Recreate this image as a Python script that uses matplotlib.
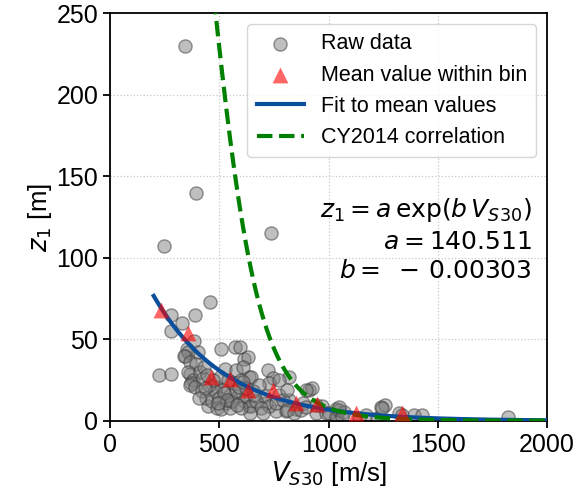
import numpy as np
import matplotlib
matplotlib.use("Agg")
import matplotlib.pyplot as plt

plt.rcParams["font.family"] = ["Liberation Sans", "DejaVu Sans"]
plt.rcParams["mathtext.fontset"] = "dejavusans"

# Datos brutos (Vs30 [m/s], z1 [m])
vs30_raw = [342, 395, 247, 737, 456,
            281, 387, 331, 278, 384, 352, 342, 402, 357, 337, 364, 395,
            509, 574, 596, 615, 630, 223, 281, 364, 357, 380, 372, 364, 387,
            524, 577, 501, 539, 561, 600, 638, 486, 516, 547, 585, 448, 532,
            615, 638, 721, 744, 729, 714, 759, 805, 850, 881, 911, 926, 972,
            942, 987, 1033, 820, 774, 820, 1040, 1169, 607, 645, 683, 623,
            645, 706, 729, 759, 790, 812, 774, 812, 843, 873, 896, 896, 942,
            1002, 1033, 1048, 1071, 1048, 1063, 1139, 1222, 1238, 1260, 1245,
            1321, 1336, 1390, 1427, 1822,
            420, 440, 465, 480, 500, 455, 470, 410, 425, 435, 490, 510, 550,
            560, 575, 590, 655, 670, 690, 700, 640, 660, 600, 620, 430, 445,
            408, 520, 535, 495, 610, 580]
z1_raw = [230, 140, 107, 115, 73,
          65, 65, 60, 55, 49, 44, 40, 42, 42, 40, 36, 35,
          44, 45.5, 45, 38, 39, 28, 29, 29, 30, 25, 23, 22, 21,
          32, 31, 27, 25, 23, 25, 27, 21, 19, 16, 15, 9, 11,
          12, 9, 31, 26, 23, 11, 6, 6, 7, 11, 19, 20, 9,
          5, 5, 7, 27, 16, 13, 1.5, 3.5, 33, 27, 22, 15,
          9, 15, 9, 11, 13, 19, 25, 6.6, 4.6, 6.6, 8.6, 19, 9.7,
          4.6, 2.5, 6.6, 5.6, 8.7, 2.5, 1.5, 1.5, 8.7, 9.7, 7.7,
          4.6, 3.6, 3.6, 3.6, 2.5,
          18, 14, 12, 18, 14, 22, 25, 30, 26, 20, 8, 7, 8,
          12, 18, 21, 18, 12, 8, 5, 5, 16, 8, 20, 33, 28,
          14, 17, 13, 11, 24, 10]

# Valores medios por intervalo
vs30_bin = [235, 357, 463, 550, 630, 744, 850, 949, 1127, 1336]
z1_bin = [68, 54, 27, 25.5, 19, 19, 11, 10.5, 4.6, 4.6]

# Ajuste exponencial z1 = a*exp(b*Vs30)
a = 140.511
b = -0.00303

v_fit = np.linspace(200, 2000, 300)
z_fit = a * np.exp(b * v_fit)
# Correlacion CY2014
z_cy = np.exp(-7.15 / 4 * np.log((v_fit**4 + 570.94**4) / (1360**4 + 570.94**4)))

fig = plt.figure(figsize=(5.79, 4.98), dpi=100)
ax = fig.add_axes([0.19, 0.155, 0.755, 0.818])

h_raw = ax.scatter(vs30_raw, z1_raw, s=90, c="gray", alpha=0.5,
                   edgecolors="#333333", linewidths=1, zorder=2, label="Raw data")
h_fit, = ax.plot(v_fit, z_fit, color="#0b4f9c", lw=3, zorder=3, label="Fit to mean values")
h_cy, = ax.plot(v_fit, z_cy, color="green", lw=3, ls="--", zorder=4,
                label="CY2014 correlation")
h_bin = ax.scatter(vs30_bin, z1_bin, s=130, marker="^", c="red", alpha=0.6,
                   linewidths=0, zorder=5, label="Mean value within bin")

ax.set_xlim(0, 2000)
ax.set_ylim(0, 250)
ax.set_xticks([0, 500, 1000, 1500, 2000])
ax.set_yticks([0, 50, 100, 150, 200, 250])
ax.grid(True, ls=":", color="#c8c8c8", lw=0.9)
ax.set_axisbelow(True)
ax.tick_params(labelsize=18, width=1.3, length=5)
for s in ax.spines.values():
    s.set_linewidth(1.3)

ax.set_xlabel(r"$V_{S30}$ [m/s]", fontsize=18.5, labelpad=2)
ax.set_ylabel(r"$z_1$ [m]", fontsize=18.5, labelpad=2)

ax.text(0.965, 0.445,
        "$z_1 = a\\,\\exp(b\\,V_{S30})$\n$a = 140.511$\n$b =\\ -\\,0.00303$",
        transform=ax.transAxes, ha="right", va="center", fontsize=18,
        multialignment="right", linespacing=1.3)

ax.legend(handles=[h_raw, h_bin, h_fit, h_cy], loc="upper right", fontsize=15.5,
          handlelength=2.2, labelspacing=0.48, borderpad=0.42)

fig.savefig("out.png", dpi=100)
